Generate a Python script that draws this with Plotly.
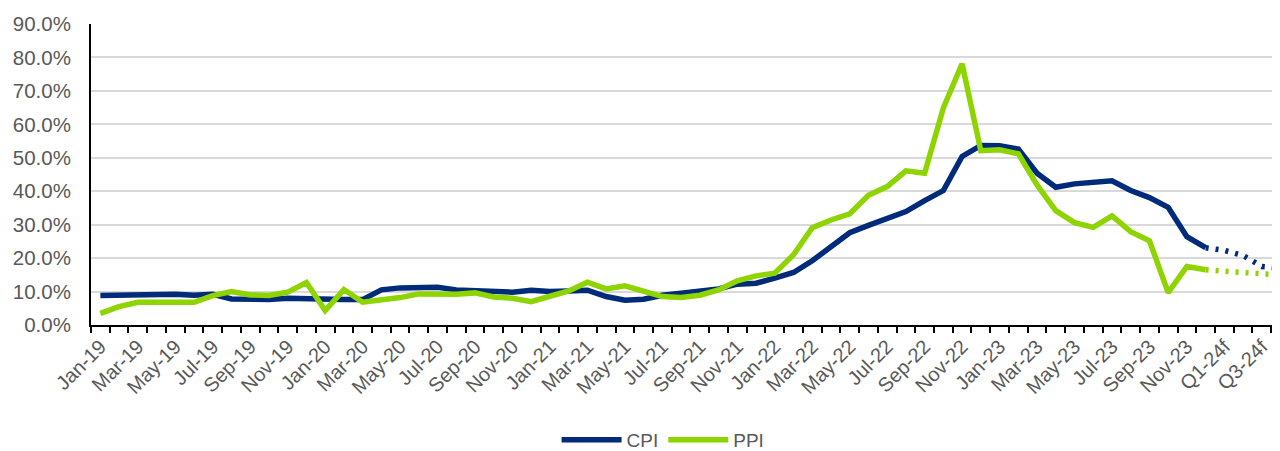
import plotly.graph_objects as go

# monthly actuals Jan-19 .. Dec-23, then quarterly forecasts
months = [f"{m}-{y}" for y in ["19", "20", "21", "22", "23"]
          for m in ["Jan", "Feb", "Mar", "Apr", "May", "Jun",
                    "Jul", "Aug", "Sep", "Oct", "Nov", "Dec"]]
quarters = ["Q1-24f", "Q2-24f", "Q3-24f", "Q4-24f"]
categories = months + quarters

cpi = [8.8, 9.0, 9.1, 9.4, 9.2, 8.9, 9.2, 7.8, 7.6, 7.6, 8.0, 7.8,
       7.5, 7.6, 7.6, 10.5, 11.1, 11.2, 11.3, 10.5, 10.3, 10.0, 9.8, 10.4,
       10.0, 10.2, 10.4, 8.5, 7.4, 7.7, 8.9, 9.5, 10.2, 10.8, 12.2, 12.5,
       14.0, 15.7, 19.2, 23.4, 27.6, 29.8, 31.7, 33.9, 37.2, 40.2, 50.4, 53.7,
       53.6, 52.6, 45.4, 41.2, 42.2, 42.6, 43.1, 40.2, 38.1, 35.2, 26.4, 23.1]
ppi = [3.5, 5.5, 6.8, 6.8, 6.5, 6.8, 8.8, 10.0, 9.0, 8.8, 9.8, 12.7,
       4.3, 10.6, 6.8, 7.3, 8.2, 9.3, 9.1, 9.2, 9.6, 8.4, 8.0, 7.0,
       8.6, 10.2, 12.8, 10.8, 11.7, 9.9, 8.5, 8.2, 8.9, 10.5, 13.2, 14.7,
       15.5, 21.0, 29.1, 31.4, 33.2, 38.8, 41.4, 46.1, 45.4, 64.9, 78.1, 52.1,
       52.4, 51.2, 41.9, 34.2, 30.6, 29.2, 32.6, 27.9, 25.2, 9.7, 17.5, 16.5]
cpi_fc = [22.3, 20.8, 17.5, 17.0]
ppi_fc = [16.0, 15.7, 15.3, 15.0]

tick_labels = [c if i % 2 == 0 else "" for i, c in enumerate(categories)]

NAVY = "#002B7A"
LIME = "#8DD400"
FONT = "Liberation Sans, Arial, sans-serif"
GREY = "#595959"

fig = go.Figure()
fig.add_trace(go.Scatter(x=months, y=cpi, mode="lines", name="CPI",
                         line=dict(color=NAVY, width=5.5)))
fig.add_trace(go.Scatter(x=months, y=ppi, mode="lines", name="PPI",
                         line=dict(color=LIME, width=5.5)))
# forecast continuation, dotted
fig.add_trace(go.Scatter(x=months[-1:] + quarters, y=cpi[-1:] + cpi_fc, mode="lines",
                         showlegend=False, line=dict(color=NAVY, width=5.5, dash="3px,7px")))
fig.add_trace(go.Scatter(x=months[-1:] + quarters, y=ppi[-1:] + ppi_fc, mode="lines",
                         showlegend=False, line=dict(color=LIME, width=5.5, dash="3px,7px")))

# page has an 8px body margin, so the figure is sized to fit the window
fig.update_layout(
    width=1272, height=443,
    margin=dict(l=83, r=0, t=16, b=126),
    plot_bgcolor="white", paper_bgcolor="white",
    font=dict(family=FONT, size=19, color=GREY),
    showlegend=True,
    legend=dict(orientation="h", xref="container", yref="container",
                x=0.515, xanchor="center", y=0.025, yanchor="middle",
                font=dict(size=19, color=GREY), itemwidth=60),
)
fig.update_xaxes(
    type="category", categoryorder="array", categoryarray=categories,
    range=[-0.5, 62.97], automargin=False,
    tickmode="array", tickvals=categories, ticktext=tick_labels,
    tickson="boundaries", ticks="outside", ticklen=6, tickwidth=1.5, tickcolor="black",
    tickangle=-45, showline=True, linecolor="black", linewidth=2,
    showgrid=False, zeroline=False,
    tickfont=dict(family=FONT, size=20, color=GREY),
)
fig.update_yaxes(
    range=[0, 90], dtick=10, tickformat=".1f", ticksuffix="%", automargin=False,
    showline=True, linecolor="black", linewidth=2,
    showgrid=True, gridcolor="#D9D9D9", gridwidth=1.5, zeroline=False,
    ticks="", ticklabelstandoff=14,
    tickfont=dict(family=FONT, size=20.5, color=GREY),
)

fig.write_html("out.html")
